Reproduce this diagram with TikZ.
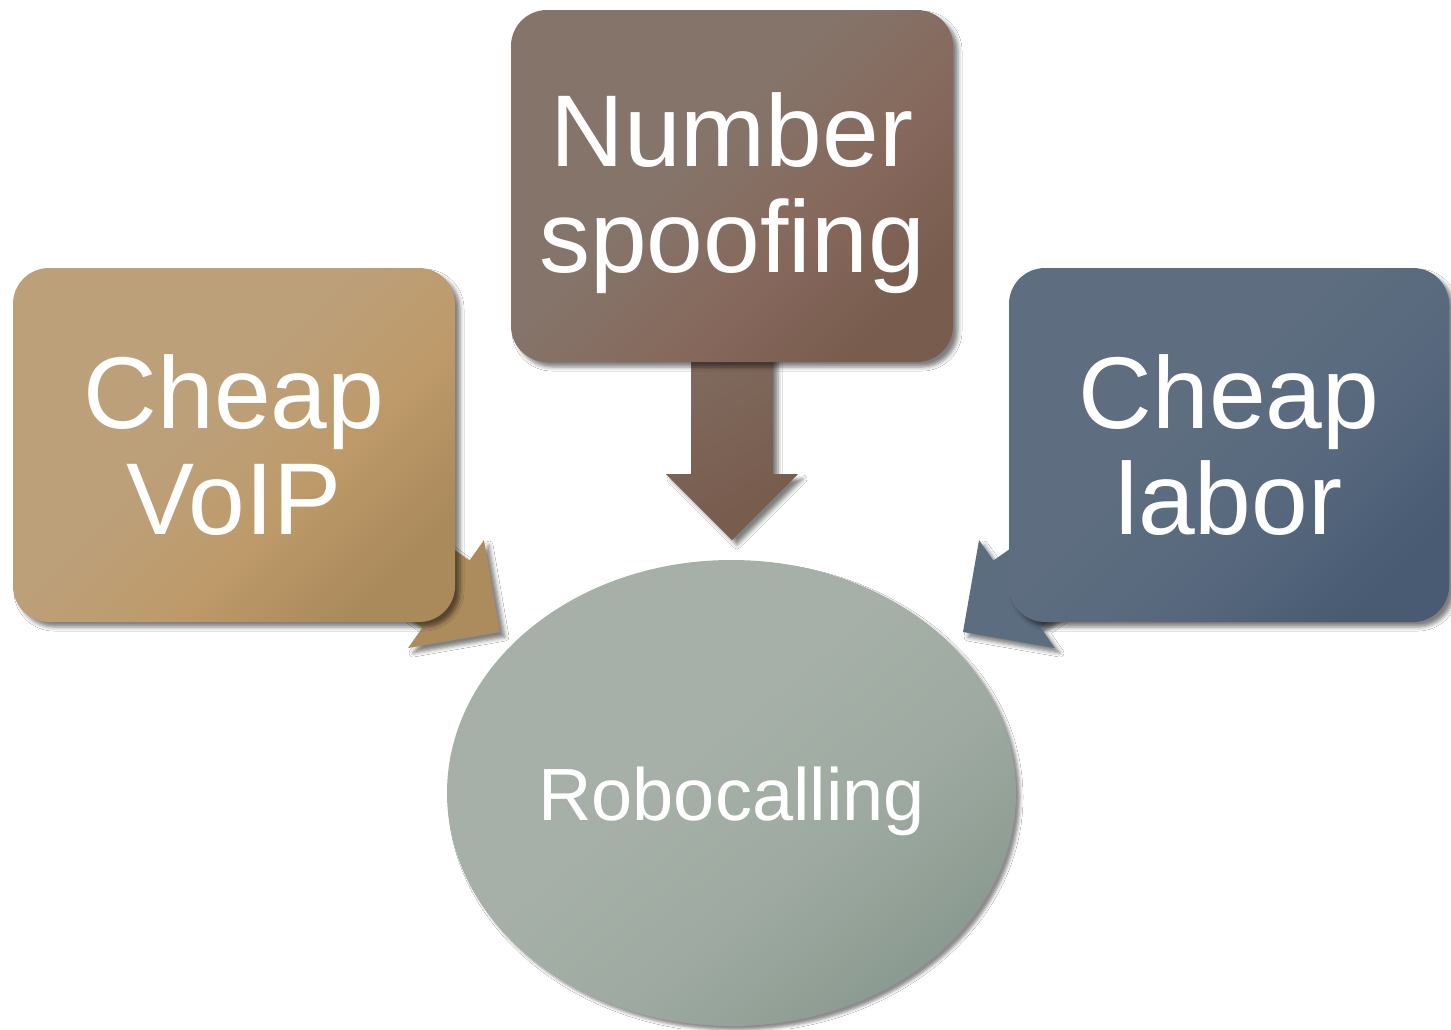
\documentclass[tikz,border=0pt]{standalone}
\usepackage{fontspec}
\setmainfont{Liberation Sans}
\usetikzlibrary{shapes.geometric,shadows.blur,calc}

\definecolor{voipA}{HTML}{BCA07A}
\definecolor{voipB}{HTML}{BE9A6A}
\definecolor{voipC}{HTML}{AA895A}
\definecolor{spoofA}{HTML}{85746A}
\definecolor{spoofB}{HTML}{86695C}
\definecolor{spoofC}{HTML}{785C4E}
\definecolor{laborA}{HTML}{5E6E80}
\definecolor{laborB}{HTML}{57687E}
\definecolor{laborC}{HTML}{485B73}
\definecolor{hubA}{HTML}{A6B0A8}
\definecolor{hubB}{HTML}{9EAAA1}
\definecolor{hubC}{HTML}{8C9B91}

% diagonal fills: light over the upper-left half, a soft band, darker lower-right corner
\pgfdeclareverticalshading{voipfill}{100bp}{color(0bp)=(voipC); color(24bp)=(voipC);
  color(40bp)=(voipB); color(56bp)=(voipA); color(100bp)=(voipA)}
\pgfdeclareverticalshading{spooffill}{100bp}{color(0bp)=(spoofC); color(24bp)=(spoofC);
  color(40bp)=(spoofB); color(56bp)=(spoofA); color(100bp)=(spoofA)}
\pgfdeclareverticalshading{laborfill}{100bp}{color(0bp)=(laborC); color(24bp)=(laborC);
  color(40bp)=(laborB); color(56bp)=(laborA); color(100bp)=(laborA)}
\pgfdeclareverticalshading{hubfill}{100bp}{color(0bp)=(hubC); color(26bp)=(hubC);
  color(40bp)=(hubB); color(56bp)=(hubA); color(100bp)=(hubA)}

\pgfdeclarelayer{back}
\pgfsetlayers{back,main}

\tikzset{
  softshadow/.style={blur shadow={shadow xshift=5pt, shadow yshift=-5pt,
      shadow blur radius=4pt, shadow opacity=50}},
  card/.style={rounded corners=36pt, minimum width=442pt, minimum height=354pt,
      inner sep=0pt, softshadow, shading angle=45},
  cardtext/.style={text=white, align=center, inner sep=0pt,
      font=\fontsize{102pt}{106pt}\selectfont},
  hub/.style={ellipse, minimum width=569pt, minimum height=466pt, inner sep=0pt,
      blur shadow={shadow xshift=4pt, shadow yshift=-4pt, shadow blur radius=3pt,
      shadow opacity=45}},
  hubtext/.style={text=white, inner sep=0pt, font=\fontsize{74pt}{80pt}\selectfont},
}

% block arrow from the centre of a source node to a tip coordinate
\newcommand\feedarrow[3]{%
  \path[softshadow, #3] let \p1=($(#2)-(#1.center)$), \n1={atan2(\y1,\x1)} in
    (#2) -- ($(#2)+(\n1:-66pt)+(\n1+90:66pt)$)
    -- ($(#2)+(\n1:-66pt)+(\n1+90:41pt)$)
    -- ($(#1.center)+(\n1+90:41pt)$)
    -- ($(#1.center)+(\n1-90:41pt)$)
    -- ($(#2)+(\n1:-66pt)+(\n1-90:41pt)$)
    -- ($(#2)+(\n1:-66pt)+(\n1-90:66pt)$) -- cycle;}

\begin{document}
\begin{tikzpicture}[x=1pt,y=-1pt]
\useasboundingbox (0,0) rectangle (1451,1029);

% cards and hub
\node[card, shading=voipfill] (voip) at (234,445) {};
\node[card, minimum height=352pt, shading=spooffill] (spoof) at (732,186) {};
\node[card, minimum width=440pt, shading=laborfill] (labor) at (1229,445) {};
\node[hub, shading=hubfill, shading angle=40] (hub) at (731.5,793) {};

% arrow tips in front of the hub
\coordinate (tipVoip) at (500,632);
\coordinate (tipSpoof) at (732,540);
\coordinate (tipLabor) at (963,632);

\begin{pgfonlayer}{back}
  \fill[white] (0,0) rectangle (1451,1029);
  \feedarrow{voip}{tipVoip}{fill=voipC!90!voipB}
  \feedarrow{spoof}{tipSpoof}{top color=spoofA, bottom color=spoofC, shading angle=30}
  \feedarrow{labor}{tipLabor}{fill=laborA!85!laborB}
\end{pgfonlayer}

% labels
\node[cardtext] (voipText) at (voip.center) {Cheap\\VoIP};
\node[cardtext] (spoofText) at ($(spoof.center)+(0,7)$) {Number\\spoofing};
\node[cardtext] (laborText) at (labor.center) {Cheap\\labor};
\node[hubtext, anchor=base] (hubText) at (731.5,820) {Robocalling};
\end{tikzpicture}
\end{document}
